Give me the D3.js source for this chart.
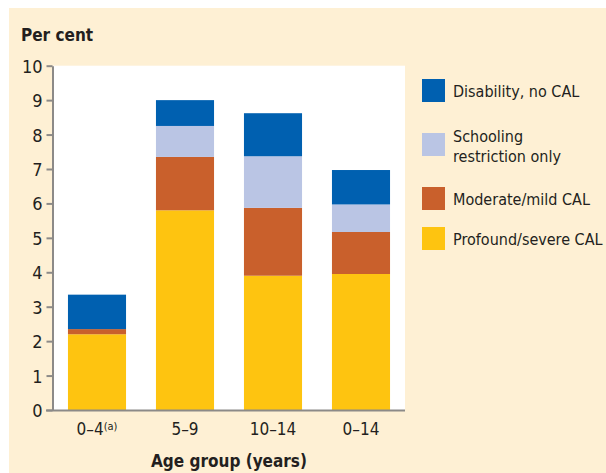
<!DOCTYPE html>
<html>
<head>
<meta charset="utf-8">
<script src="https://cdn.jsdelivr.net/npm/d3@7"></script>
<style>
  body { margin: 0; background: #ffffff; }
  text { font-family: "Liberation Sans Narrow", "DejaVu Sans Condensed", "Roboto Condensed", sans-serif; fill: #231f20; }
</style>
</head>
<body>
<div id="chart"></div>
<script>

//Chart data
const ageGroups = ["0\u20134", "5\u20139", "10\u201314", "0\u201314"];
const seriesNames = ["Profound/severe CAL", "Moderate/mild CAL", "Schooling restriction only", "Disability, no CAL"];
const profound = [2.2, 5.8, 3.9, 3.95];
const moderate = [0.15, 1.55, 1.97, 1.22];
const schooling = [0, 0.9, 1.5, 0.8];
const noCal = [1.0, 0.75, 1.25, 1.0];
const yTicks = [0, 1, 2, 3, 4, 5, 6, 7, 8, 9, 10];

const colours = ["#fec410", "#c9602c", "#bac5e4", "#0060b0"];

//Builds rows for the stack layout
const rows = ageGroups.map((g, i) => ({
    group: g,
    "Profound/severe CAL": profound[i],
    "Moderate/mild CAL": moderate[i],
    "Schooling restriction only": schooling[i],
    "Disability, no CAL": noCal[i]
}));

const width = 606, height = 473;
const plot = {left: 53, right: 405, top: 65.7, bottom: 410};

const svg = d3.select("#chart").append("svg")
    .attr("width", width)
    .attr("height", height);

///////// Background //////////////
svg.append("rect")
    .attr("x", 9).attr("y", 8)
    .attr("width", width - 9).attr("height", height - 8)
    .attr("fill", "#fef0d4");

svg.append("rect")
    .attr("x", plot.left).attr("y", plot.top)
    .attr("width", plot.right - plot.left).attr("height", plot.bottom - plot.top)
    .attr("fill", "#ffffff");

//Scales
const x = d3.scaleBand()
    .domain(ageGroups)
    .range([plot.left, plot.right])
    .paddingInner(0.34)
    .paddingOuter(0.17);

const y = d3.scaleLinear()
    .domain([0, 10])
    .range([plot.bottom, plot.top]);

const colour = d3.scaleOrdinal().domain(seriesNames).range(colours);

//Stacked bars
const stacked = d3.stack().keys(seriesNames)(rows);

svg.append("g")
    .selectAll("g")
    .data(stacked)
    .join("g")
    .attr("fill", d => colour(d.key))
    .selectAll("rect")
    .data(d => d)
    .join("rect")
    .attr("x", d => x(d.data.group))
    .attr("width", x.bandwidth())
    .attr("y", d => y(d[1]))
    .attr("height", d => y(d[0]) - y(d[1]));

//Y axis
const yAxis = svg.append("g")
    .attr("transform", `translate(${plot.left - 0.5},0)`)
    .call(d3.axisLeft(y).tickValues(yTicks).tickSize(6).tickPadding(4).tickSizeOuter(0));
yAxis.selectAll("text").style("font-size", "18px").attr("dy", "0.36em");

//X axis
const xAxis = svg.append("g")
    .attr("transform", `translate(0,${plot.bottom + 0.5})`)
    .call(d3.axisBottom(x).tickSize(0).tickPadding(12).tickSizeOuter(0));
xAxis.selectAll("text").style("font-size", "17px");
xAxis.select(".domain").attr("d", `M${plot.left - 7},0H${plot.right}`);

svg.selectAll(".domain, .tick line").attr("stroke", "#8c8a88").attr("stroke-width", 2);

//Footnote marker on first label
xAxis.selectAll(".tick text")
    .filter(d => d === ageGroups[0])
    .append("tspan")
    .attr("dy", "-0.45em")
    .style("font-size", "11px")
    .text("(a)");

//Axis titles
svg.append("text")
    .attr("x", 21).attr("y", 41)
    .style("font-size", "17px")
    .style("font-weight", "bold")
    .text("Per cent");

svg.append("text")
    .attr("x", (plot.left + plot.right) / 2).attr("y", 467)
    .attr("text-anchor", "middle")
    .style("font-size", "17px")
    .style("font-weight", "bold")
    .text("Age group (years)");

//Legend (top to bottom)
const legendItems = [
    {key: seriesNames[3], lines: ["Disability, no CAL"], y: 79},
    {key: seriesNames[2], lines: ["Schooling", "restriction only"], y: 133},
    {key: seriesNames[1], lines: ["Moderate/mild CAL"], y: 187},
    {key: seriesNames[0], lines: ["Profound/severe CAL"], y: 227}
];

const legend = svg.append("g").selectAll("g")
    .data(legendItems)
    .join("g")
    .attr("transform", d => `translate(422,${d.y})`);

legend.append("rect")
    .attr("width", 23).attr("height", 23)
    .attr("fill", d => colour(d.key));

legend.each(function (d) {
    const t = d3.select(this).append("text")
        .attr("x", 31)
        .style("font-size", "16px");
    const startY = d.lines.length === 1 ? 18 : 9;
    d.lines.forEach((l, i) => {
        t.append("tspan").attr("x", 31).attr("y", startY + i * 20).text(l);
    });
});

</script>
</body>
</html>
